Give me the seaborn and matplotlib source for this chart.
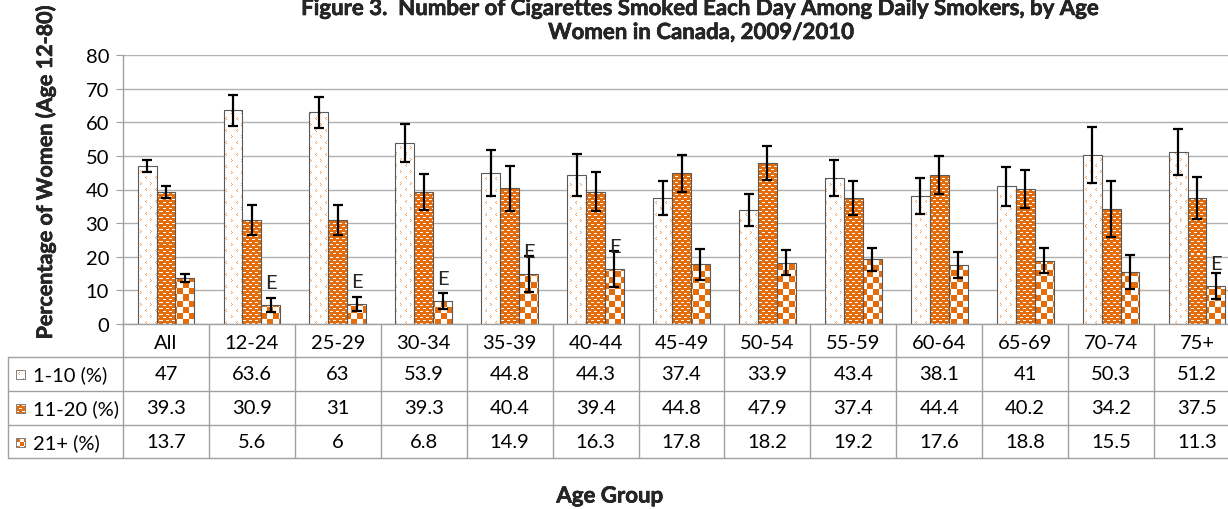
import numpy as np
import pandas as pd
import matplotlib
matplotlib.use("Agg")
import matplotlib.pyplot as plt
import matplotlib.transforms as mtransforms
from matplotlib import patheffects
from matplotlib.lines import Line2D
from matplotlib.patches import Rectangle
import seaborn as sns

# ---------------------------------------------------------------- data
age_groups = ["All", "12-24", "25-29", "30-34", "35-39", "40-44", "45-49",
              "50-54", "55-59", "60-64", "65-69", "70-74", "75+"]
series_names = ["1-10 (%)", "11-20 (%)", "21+ (%)"]

pct_1_10 = [47, 63.6, 63, 53.9, 44.8, 44.3, 37.4, 33.9, 43.4, 38.1, 41, 50.3, 51.2]
pct_11_20 = [39.3, 30.9, 31, 39.3, 40.4, 39.4, 44.8, 47.9, 37.4, 44.4, 40.2, 34.2, 37.5]
pct_21_plus = [13.7, 5.6, 6, 6.8, 14.9, 16.3, 17.8, 18.2, 19.2, 17.6, 18.8, 15.5, 11.3]

# 95% confidence interval half-widths
ci_1_10 = [1.8, 4.6, 4.6, 5.6, 6.8, 6.3, 5.1, 4.9, 5.4, 5.3, 5.8, 8.3, 6.9]
ci_11_20 = [1.75, 4.4, 4.5, 5.4, 6.7, 5.9, 5.6, 5.1, 5.0, 5.65, 5.6, 8.2, 6.3]
ci_21_plus = [1.2, 2.1, 2.1, 2.3, 5.3, 5.4, 4.6, 3.7, 3.4, 3.9, 3.7, 5.0, 3.8]

# "E" = use estimate with caution (high sampling variability)
flags_1_10 = [""] * 13
flags_11_20 = [""] * 13
flags_21_plus = ["", "E", "E", "E", "E", "E", "", "", "", "", "", "", "E"]

values = [pct_1_10, pct_11_20, pct_21_plus]
cis = [ci_1_10, ci_11_20, ci_21_plus]
flags = [flags_1_10, flags_11_20, flags_21_plus]

title_lines = ["Figure 3.  Number of Cigarettes Smoked Each Day Among Daily Smokers, by Age",
               "Women in Canada, 2009/2010"]
y_label = "Percentage of Women (Age 12-80)"
x_label = "Age Group"

df = pd.DataFrame({
    "age": age_groups * 3,
    "size": np.repeat(series_names, len(age_groups)),
    "pct": pct_1_10 + pct_11_20 + pct_21_plus,
})

# ---------------------------------------------------------------- style
W, H = 1228, 510
sns.set_style("white")
plt.rcParams["font.family"] = ["Lato", "DejaVu Sans"]
plt.rcParams["font.size"] = 14.5

TXT = 14.5
HEAVY = [patheffects.withStroke(linewidth=0.4, foreground="black")]
ORANGE = np.array([228, 108, 10]) / 255.0
LIGHT = np.array([242, 160, 95]) / 255.0
WHITE = np.ones(3)
GRID = "#b0b0b0"
LINE = "#a0a0a0"


def make_texture(kind, h, w, cell=6):
    """Pixel fill patterns for the three series."""
    yy, xx = np.mgrid[0:h, 0:w]
    img = np.ones((h, w, 3))
    if kind == 0:            # white with small scattered chevrons
        tile = np.zeros((12, 10), bool)
        tile[2, 3] = tile[3, 2] = tile[4, 3] = True
        tile[8, 7] = tile[9, 8] = tile[10, 7] = True
        img[tile[yy % 12, xx % 10]] = LIGHT
    elif kind == 1:          # orange with staggered white dashes
        img[:] = ORANGE
        tile = np.zeros((6, 6), bool)
        tile[1, 0:3] = True
        tile[4, 3:6] = True
        img[tile[yy % 6, xx % 6]] = WHITE
    else:                    # checkerboard
        mask = ((yy // cell) + (xx // cell)) % 2 == 0
        img[mask] = ORANGE
    return img


def fx(px):
    return px / W


def fy(py):
    return 1 - py / H


fig = plt.figure(figsize=(W / 100, H / 100), dpi=100)
ax_left, ax_right, ax_top, ax_bottom = 123, 1240, 56, 325
ax = fig.add_axes([fx(ax_left), fy(ax_bottom), (ax_right - ax_left) / W,
                   (ax_bottom - ax_top) / H])

sns.barplot(data=df, x="age", y="pct", hue="size", order=age_groups,
            hue_order=series_names, palette=["white", "#e46c0a", "#e46c0a"],
            width=0.66, errorbar=None, saturation=1, legend=False,
            edgecolor="#595959", linewidth=0.8, ax=ax)
bar_containers = list(ax.containers)

ax.set_xlim(-0.5, len(age_groups) - 0.5)
ax.set_ylim(0, 80)
ax.set_yticks(range(0, 81, 10))
ax.set_axisbelow(True)
ax.yaxis.grid(True, color=GRID, linewidth=1.0)
ax.xaxis.grid(False)
for side in ["top", "right"]:
    ax.spines[side].set_visible(False)
for side in ["left", "bottom"]:
    ax.spines[side].set_color(LINE)
    ax.spines[side].set_linewidth(1.0)
ax.tick_params(axis="y", length=5, color=LINE, labelsize=TXT, pad=5,
               labelcolor="black", left=True)
ax.tick_params(axis="x", length=0, labelsize=TXT, pad=7, labelcolor="black")
ax.set_xlabel("")
ax.set_ylabel("")

# textured fills clipped to each bar, error bars and "E" flags
tex_h = ax_bottom - ax_top
tex_w = ax_right - ax_left
x0, x1 = ax.get_xlim()
for k, container in enumerate(bar_containers):
    tex = make_texture(k, tex_h, tex_w)
    for j, bar in enumerate(container.patches):
        bar.set_facecolor("none")
        bar.set_zorder(2.2)
        im = ax.imshow(tex, extent=(x0, x1, 0, 80), aspect="auto",
                       interpolation="nearest", zorder=2.1, origin="upper")
        im.set_clip_path(bar)
        cx = bar.get_x() + bar.get_width() / 2
        top = bar.get_height()
        ax.errorbar(cx, top, yerr=cis[k][j], fmt="none", ecolor="black",
                    elinewidth=1.6, capsize=3.3, capthick=1.6, zorder=3)
        if flags[k][j]:
            ax.annotate(flags[k][j], xy=(cx, top), xytext=(0, 16),
                        textcoords="offset points", ha="center", va="center",
                        fontsize=TXT, color="#262626", zorder=4)
ax.set_xlim(x0, x1)
ax.set_ylim(0, 80)

# ---------------------------------------------------------------- data table
blend = mtransforms.blended_transform_factory(ax.transData, fig.transFigure)
row_lines = [358, 392, 426, 459]
row_centers = [375, 409, 443]

for i in range(len(age_groups) + 1):
    fig.add_artist(Line2D([i - 0.5, i - 0.5], [fy(ax_bottom), fy(row_lines[-1])],
                          transform=blend, color=LINE, lw=1.0))
for py in row_lines:
    fig.add_artist(Line2D([fx(8), 1.0], [fy(py), fy(py)],
                          transform=fig.transFigure, color=LINE, lw=1.0))
fig.add_artist(Line2D([fx(8), fx(8)], [fy(row_lines[0]), fy(row_lines[-1])],
                      transform=fig.transFigure, color=LINE, lw=1.0))

for k, name in enumerate(series_names):
    yc = row_centers[k]
    for j, v in enumerate(values[k]):
        fig.text(j, fy(yc), f"{v:g}", transform=blend, ha="center",
                 va="center", fontsize=TXT, color="black")
    fig.text(fx(33), fy(yc), name, ha="left", va="center", fontsize=TXT,
             color="black")
    sw = make_texture(k, 9, 9, cell=4)
    fig.figimage(sw, xo=16, yo=H - yc - 5, origin="upper", zorder=3)
    fig.add_artist(Rectangle((fx(16), fy(yc + 5)), 9 / W, 9 / H,
                             transform=fig.transFigure, fill=False,
                             edgecolor="#7f7f7f", lw=0.7, zorder=4))

# ---------------------------------------------------------------- titles
fig.text(fx(701), fy(16), title_lines[0], ha="center", va="baseline",
         fontsize=16, fontweight="bold", path_effects=HEAVY)
fig.text(fx(701), fy(40), title_lines[1], ha="center", va="baseline",
         fontsize=16, fontweight="bold", path_effects=HEAVY)
fig.text(fx(45), fy(174), y_label, rotation=90, ha="center", va="center",
         fontsize=15.5, fontweight="bold", path_effects=HEAVY)
fig.text(fx(610), fy(497), x_label, ha="center", va="center",
         fontsize=16, fontweight="bold", path_effects=HEAVY)

fig.savefig("out.png", dpi=100)
